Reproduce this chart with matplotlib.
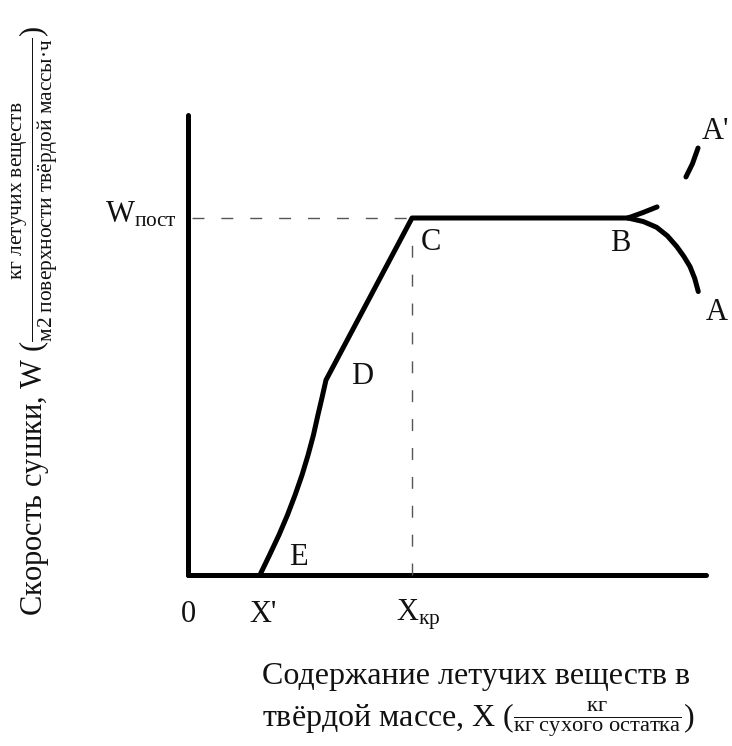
import matplotlib
matplotlib.use("Agg")
import matplotlib.pyplot as plt

plt.rcParams['font.family'] = ['Liberation Serif', 'DejaVu Serif']
plt.rcParams['mathtext.fontset'] = 'custom'
plt.rcParams['mathtext.rm'] = 'Liberation Serif'
plt.rcParams['mathtext.it'] = 'Liberation Serif:italic'
plt.rcParams['mathtext.bf'] = 'Liberation Serif:bold'

# ---- data (X: volatile content, W: drying rate; X_kr = 1, W_post = 1) ----
x_rising = [0.321, 0.364, 0.406, 0.444, 0.478, 0.509, 0.536, 0.560, 0.580, 0.598, 0.616, 1.0, 1.964]
w_rising = [0.000, 0.056, 0.112, 0.168, 0.224, 0.280, 0.336, 0.392, 0.448, 0.496, 0.546, 1.0, 1.0]
x_fall = [1.964, 2.033, 2.092, 2.140, 2.182, 2.214, 2.241, 2.262, 2.278]
w_fall = [1.000, 0.990, 0.974, 0.950, 0.920, 0.892, 0.864, 0.831, 0.794]
x_up = [1.964, 2.030, 2.094]
w_up = [1.000, 1.015, 1.031]
x_dash_up = [2.223, 2.252, 2.277]
w_dash_up = [1.115, 1.152, 1.196]
x_kr = 1.0
w_post = 1.0
x_axis_end = 2.3125
w_axis_end = 1.289

point_labels = ['C', 'B', 'A', "A'", 'D', 'E']
point_x = [1.085, 1.929, 2.362, 2.353, 0.777, 0.491]
point_w = [0.930, 0.928, 0.734, 1.241, 0.555, 0.050]

tick_labels = ['0', "X'", r'X$_{\mathrm{кр}}$']
tick_x = [0.0, 0.335, 1.027]

W, H = 732, 746
fig = plt.figure(figsize=(W / 100, H / 100), dpi=100)
ax = fig.add_axes([0, 0, 1, 1])
ox, oy, sx, sy = 188, 575, 224, 357
ax.set_xlim(-ox / sx, (W - ox) / sx)
ax.set_ylim(-(H - oy) / sy, oy / sy)
ax.axis('off')

lw = 3.6
# axes
ax.plot([0, 0], [0, w_axis_end], color='black', lw=lw, solid_capstyle='round')
ax.plot([0, x_axis_end], [0, 0], color='black', lw=lw, solid_capstyle='round')

# guide dashed lines
ax.plot([0.02, x_kr], [w_post, w_post], color='#555555', lw=1.0, dashes=(8.6, 12.2))
ax.plot([x_kr, x_kr], [0, 0.96], color='#555555', lw=1.0, dashes=(8.6, 12.2))

# curves
ax.plot(x_rising, w_rising, color='black', lw=lw, solid_joinstyle='round', solid_capstyle='butt')
ax.plot(x_fall, w_fall, color='black', lw=lw, solid_joinstyle='round', solid_capstyle='round')
ax.plot(x_up, w_up, color='black', lw=lw, solid_joinstyle='round', solid_capstyle='round')
ax.plot(x_dash_up, w_dash_up, color='black', lw=lw, solid_joinstyle='round', solid_capstyle='round')

fs = 22
for lab, px, pw in zip(point_labels, point_x, point_w):
    ax.text(px, pw, lab, fontsize=fs, ha='center', va='center', color='#111111')

for lab, px in zip(tick_labels, tick_x):
    ax.text(px, -0.112, lab, fontsize=fs, ha='center', va='center', color='#111111')

ax.text(-0.21, 1.008, r'W$_{\mathrm{пост}}$', fontsize=fs, ha='center', va='center', color='#111111')

# y label
fig.text(35 / W, 1 - 321 / H,
         r'Скорость сушки, W ($\frac{\mathrm{кг\ летучих\ веществ}}{\mathrm{м2\ поверхности\ твёрдой\ массы·ч}}$)',
         rotation=90, fontsize=fs, ha='center', va='center', color='#111111')

# x label
fsx = 23
fig.text(262 / W, 1 - 684 / H, 'Содержание летучих веществ в', fontsize=fsx,
         ha='left', va='baseline', color='#111111')
fig.text(262 / W, 1 - 728 / H,
         r'твёрдой массе, X ($\frac{\mathrm{кг}}{\mathrm{кг\ сухого\ остатка}}$)',
         fontsize=fsx, ha='left', va='baseline', color='#111111')

fig.savefig('out.png', dpi=100, facecolor='white')
